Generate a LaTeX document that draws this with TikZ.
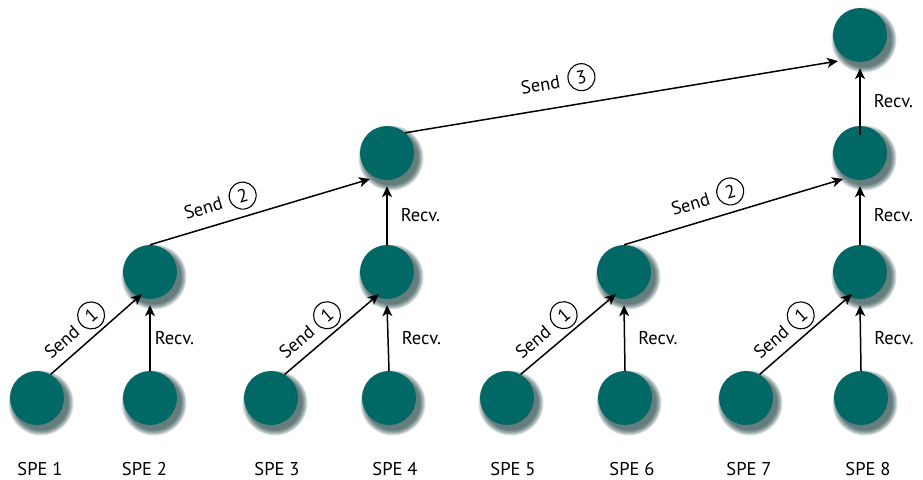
\documentclass[tikz,border=0pt]{standalone}
\usepackage{fontspec}
\setmainfont{PT Sans}
\usetikzlibrary{arrows.meta,backgrounds}
\definecolor{spefill}{RGB}{0,104,101}
\definecolor{speshadow}{RGB}{0,38,38}
\begin{document}
\begin{tikzpicture}[x=1pt,y=-1pt,
  txt/.style={font=\fontsize{18.5}{20}\selectfont,inner sep=0pt},
  spe/.style={circle,fill=spefill,minimum size=54pt,inner sep=0pt},
  arr/.style={line width=1.5pt,-{Stealth[length=11pt,width=10pt,inset=3pt]}},
  sendlbl/.style={txt,sloped},
  numlbl/.style={txt,sloped,draw=black,line width=1.1pt,circle,minimum size=27pt},
  recvlbl/.style={txt}]
\useasboundingbox (0,0) rectangle (923,479);
% nodes
\node[spe] (l1) at (37,398) {};
\node[spe] (l2) at (150,398) {};
\node[spe] (l3) at (271,398) {};
\node[spe] (l4) at (389,398) {};
\node[spe] (l5) at (507,398) {};
\node[spe] (l6) at (625,398) {};
\node[spe] (l7) at (746,398) {};
\node[spe] (l8) at (861,398) {};
\node[spe] (m2) at (150,272) {};
\node[spe] (m4) at (387,272) {};
\node[spe] (m6) at (624,272) {};
\node[spe] (m8) at (860,272) {};
\node[spe] (n4) at (387,153) {};
\node[spe] (n8) at (860,153) {};
\node[spe] (t8) at (860,35) {};
% shadows
\begin{scope}[on background layer]
\foreach \n in {l1,l2,l3,l4,l5,l6,l7,l8,m2,m4,m6,m8,n4,n8,t8}{
  \foreach \k in {1,...,6}{
    \fill[speshadow,opacity=0.14] ([shift={(4,5)}]\n.center) circle[radius={(26.5+\k)*1pt}];
  }
}
\end{scope}
% labels
\node[txt,anchor=base] (s1) at (40,475) {SPE 1};
\node[txt,anchor=base] (s2) at (144.5,475) {SPE 2};
\node[txt,anchor=base] (s3) at (277,475) {SPE 3};
\node[txt,anchor=base] (s4) at (395,475) {SPE 4};
\node[txt,anchor=base] (s5) at (513,475) {SPE 5};
\node[txt,anchor=base] (s6) at (632,475) {SPE 6};
\node[txt,anchor=base] (s7) at (749,475) {SPE 7};
\node[txt,anchor=base] (s8) at (868,475) {SPE 8};
% send 1
\foreach \a/\b in {l1/m2,l3/m4,l5/m6,l7/m8}{
\draw[arr] (\a.60) -- ([shift={(-8,22)}]\b.center)
  node[sendlbl,pos=0.245,above=9.5pt] (send-\a) {Send}
  node[numlbl,pos=0.57,above=3.5pt] (num-\a) {1};
}
% recv 1
\draw[arr] (l2.north) -- ([shift={(0,6)}]m2.south) node[recvlbl,midway,right=4pt] (r2) {Recv.};
\draw[arr] (l4.north) -- ([shift={(0,6)}]m4.south) node[recvlbl,midway,right=13pt] (r4) {Recv.};
\draw[arr] (l6.north) -- ([shift={(0,6)}]m6.south) node[recvlbl,midway,right=13pt] (r6) {Recv.};
\draw[arr] (l8.north) -- ([shift={(0,6)}]m8.south) node[recvlbl,midway,right=13pt] (r8) {Recv.};
% send 2
\draw[arr] (m2.north) -- ([shift={(-17,26)}]n4.center)
  node[sendlbl,pos=0.268,above=12.5pt] (send-m2) {Send}
  node[numlbl,pos=0.448,above=6.5pt] (num-m2) {2};
\draw[arr] (m6.north) -- ([shift={(-17,26)}]n8.center)
  node[sendlbl,pos=0.33,above=12.5pt] (send-m6) {Send}
  node[numlbl,pos=0.512,above=6.5pt] (num-m6) {2};
% recv 2
\draw[arr] (m4.north) -- ([shift={(0,6)}]n4.south) node[recvlbl,midway,right=13pt] (q4) {Recv.};
\draw[arr] (m8.north) -- ([shift={(0,6)}]n8.south) node[recvlbl,midway,right=13pt] (q8) {Recv.};
% send 3
\draw[arr] (n4.48) -- ([shift={(-22,26)}]t8.center)
  node[sendlbl,pos=0.322,above=18pt] (send-n4) {Send}
  node[numlbl,pos=0.417,above=12pt] (num-n4) {3};
% recv 3
\draw[arr] ([shift={(0,9)}]n8.north) -- ([shift={(0,6)}]t8.south) node[recvlbl,midway,right=13pt] (p8) {Recv.};
\end{tikzpicture}
\end{document}
